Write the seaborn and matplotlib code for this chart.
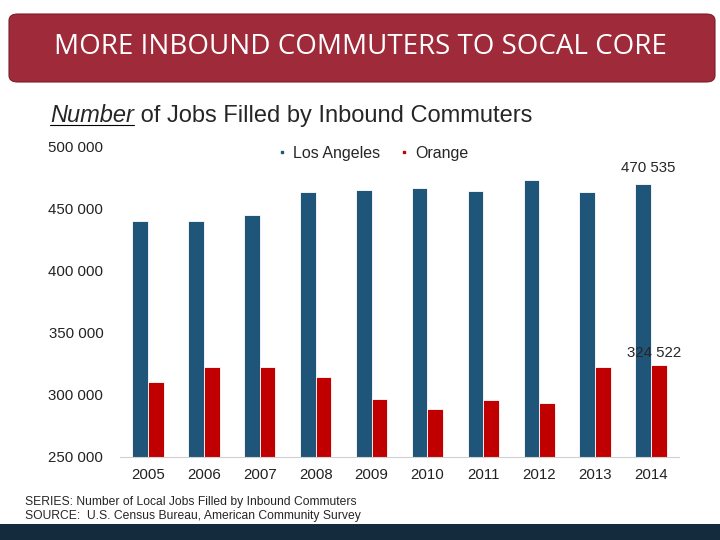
import pandas as pd
import seaborn as sns
from matplotlib import pyplot as plt
from matplotlib.patches import FancyBboxPatch, Rectangle
from matplotlib.lines import Line2D

years = ["2005", "2006", "2007", "2008", "2009", "2010", "2011", "2012", "2013", "2014"]
los_angeles = [440600, 440600, 445200, 463700, 465300, 466900, 464800, 473700, 463700, 470535]
orange = [310500, 322600, 322600, 314500, 296800, 288700, 296000, 293600, 322600, 324522]
counties = ["Los Angeles", "Orange"]
y_ticks = [250000, 300000, 350000, 400000, 450000, 500000]

BLUE = "#1f5578"
RED = "#c00000"

def fmt(v):
    return "{:,}".format(int(v)).replace(",", " ")

df = pd.DataFrame({
    "year": years * 2,
    "jobs": los_angeles + orange,
    "county": [counties[0]] * len(years) + [counties[1]] * len(years),
})

sns.set_style("white")
plt.rcParams["font.family"] = ["Liberation Sans", "DejaVu Sans"]

fig = plt.figure(figsize=(7.2, 5.4), dpi=100)
ax = fig.add_axes([120 / 720, 83 / 540, 559 / 720, 310 / 540])

sns.barplot(data=df, x="year", y="jobs", hue="county", palette=[BLUE, RED], saturation=1,
            width=0.56, edgecolor="white", linewidth=0.6, legend=False, ax=ax)

ax.set_ylim(y_ticks[0], y_ticks[-1])
ax.set_yticks(y_ticks)
ax.set_yticklabels([fmt(t) for t in y_ticks], fontsize=10.8, color="#222222")
ax.tick_params(axis="y", length=0, pad=12)
ax.tick_params(axis="x", length=0, pad=8, labelsize=10.8, labelcolor="#222222")
ax.set_xlabel("")
ax.set_ylabel("")
sns.despine(ax=ax, left=True)
ax.spines["bottom"].set_color("#d0d0d0")

# labels on the last year
ax.annotate(fmt(los_angeles[-1]), xy=(len(years) - 1, los_angeles[-1]), xytext=(-2, 6),
            textcoords="offset points", ha="center", va="bottom", fontsize=10.8)
ax.annotate(fmt(orange[-1]), xy=(len(years) - 1, orange[-1]), xytext=(2, 3),
            textcoords="offset points", ha="center", va="bottom", fontsize=10.8)

handles = [Line2D([], [], marker="s", linestyle="", markersize=2, color=c) for c in [BLUE, RED]]
ax.legend(handles, counties, loc="center", bbox_to_anchor=(0.45, 0.98), ncol=2,
          frameon=False, fontsize=11.5, handletextpad=0.2, handlelength=1.0,
          columnspacing=1.0)

# title banner
fig.patches.append(FancyBboxPatch((9 / 720, 1 - 82 / 540), 706 / 720, 68 / 540,
                                  boxstyle="round,pad=0,rounding_size=0.012",
                                  transform=fig.transFigure, facecolor="#9e2a3a",
                                  edgecolor="#7a1f2c", linewidth=0.8))
fig.text(0.5, 1 - 47 / 540, "MORE INBOUND COMMUTERS TO SOCAL CORE", ha="center", va="center",
         color="white", fontsize=20, family=["Open Sans", "DejaVu Sans"])

# subtitle with italic underlined first word
t1 = fig.text(50 / 720, 1 - 115 / 540, "Number", fontsize=17, style="italic", va="center")
t2 = ax.annotate(" of Jobs Filled by Inbound Commuters", xy=(1, 0), xycoords=t1,
                 va="bottom", ha="left", fontsize=17, annotation_clip=False)
fig.canvas.draw()
bb = t1.get_window_extent().transformed(fig.transFigure.inverted())
fig.add_artist(Line2D([bb.x0, bb.x1], [bb.y0 + 0.002, bb.y0 + 0.002], color="black",
                      linewidth=0.8, transform=fig.transFigure))

# footer
fig.text(25 / 720, 1 - 502 / 540, "SERIES: Number of Local Jobs Filled by Inbound Commuters",
         fontsize=8.7, va="center")
fig.text(25 / 720, 1 - 516 / 540, "SOURCE:  U.S. Census Bureau, American Community Survey",
         fontsize=8.7, va="center")
fig.patches.append(Rectangle((0, 0), 1, 16 / 540, transform=fig.transFigure,
                             facecolor="#132b3c", edgecolor="none"))

fig.savefig("out.png", dpi=100)
